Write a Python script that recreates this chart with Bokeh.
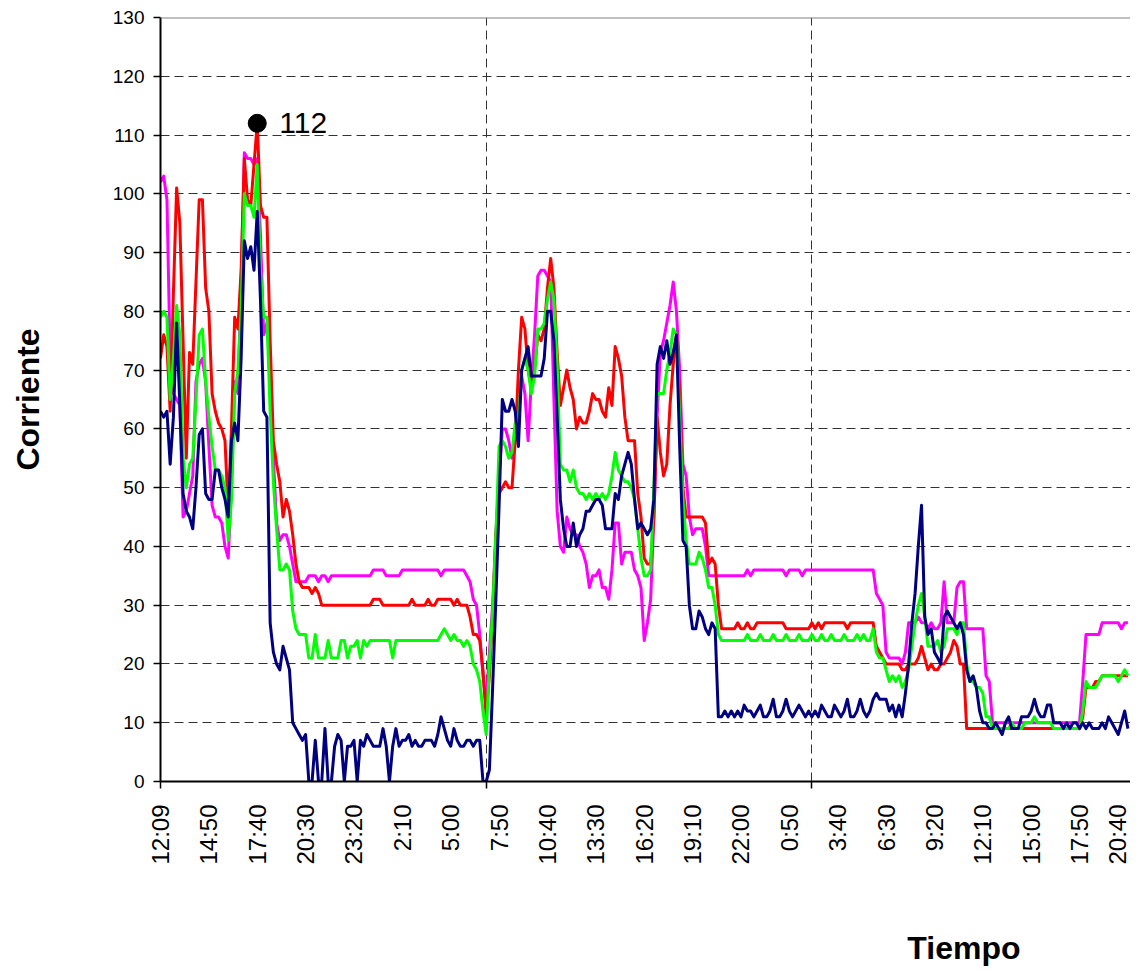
from math import pi
from bokeh.plotting import figure
from bokeh.layouts import column
from bokeh.models import Range1d, FixedTicker, Label, Span
from bokeh.embed import file_html
from bokeh.resources import INLINE

# ---- data (sample index along the time axis, one value per sample) ----
tick_labels = ["12:09", "14:50", "17:40", "20:30", "23:20", "2:10", "5:00",
               "7:50", "10:40", "13:30", "16:20", "19:10", "22:00", "0:50",
               "3:40", "6:30", "9:20", "12:10", "15:00", "17:50", "20:40"]
label_step = 15
y_ticks = [0, 10, 20, 30, 40, 50, 60, 70, 80, 90, 100, 110, 120, 130]

azul = [
    63, 62, 63, 54, 62, 78, 64, 49, 46, 45,
    43, 50, 59, 60, 49, 48, 48, 53, 53, 50,
    48, 45, 58, 61, 58, 72, 92, 89, 91, 87,
    97, 82, 63, 62, 27, 22, 20, 19, 23, 21,
    19, 10, 9, 8, 7, 8, 0, 0, 7, 0,
    0, 9, 0, 0, 6, 8, 7, 0, 6, 6,
    7, 0, 7, 6, 8, 7, 6, 6, 6, 9,
    6, 0, 6, 9, 6, 7, 7, 8, 6, 7,
    6, 6, 7, 7, 7, 6, 8, 11, 9, 7,
    6, 9, 7, 6, 6, 7, 7, 6, 7, 7,
    0, 0, 2, 16, 31, 47, 65, 63, 63, 65,
    63, 57, 70, 72, 74, 69, 69, 69, 69, 72,
    80, 80, 75, 62, 48, 43, 40, 40, 44, 40,
    42, 43, 46, 46, 47, 48, 48, 47, 43, 43,
    43, 49, 48, 52, 54, 56, 54, 48, 43, 44,
    43, 42, 43, 48, 71, 74, 72, 75, 71, 73,
    76, 57, 41, 40, 30, 26, 26, 29, 28, 26,
    25, 27, 26, 11, 11, 12, 11, 12, 11, 12,
    11, 13, 12, 12, 11, 12, 13, 11, 11, 12,
    14, 11, 11, 12, 14, 12, 11, 12, 13, 12,
    11, 12, 11, 12, 11, 13, 12, 11, 11, 13,
    12, 11, 12, 14, 11, 11, 12, 14, 12, 11,
    12, 14, 15, 14, 14, 14, 12, 13, 11, 13,
    11, 15, 20, 27, 32, 40, 47, 28, 25, 26,
    22, 21, 20, 28, 29, 28, 27, 26, 27, 25,
    19, 17, 18, 16, 12, 10, 10, 9, 9, 10,
    9, 8, 10, 11, 9, 9, 9, 11, 11, 11,
    12, 14, 12, 11, 11, 13, 13, 10, 10, 10,
    9, 10, 9, 10, 10, 9, 10, 9, 10, 9,
    9, 9, 10, 9, 11, 10, 9, 8, 10, 12,
    9]

verde = [
    79, 80, 79, 65, 72, 81, 76, 55, 50, 54,
    55, 65, 76, 77, 68, 62, 57, 53, 53, 52,
    50, 41, 48, 66, 70, 80, 100, 98, 98, 96,
    105, 87, 79, 79, 63, 51, 43, 36, 36, 37,
    36, 29, 26, 25, 25, 25, 21, 21, 25, 21,
    21, 21, 24, 21, 21, 21, 24, 24, 21, 23,
    23, 24, 21, 24, 23, 24, 24, 24, 24, 24,
    24, 24, 21, 24, 24, 24, 24, 24, 24, 24,
    24, 24, 24, 24, 24, 24, 24, 25, 26, 25,
    24, 25, 24, 24, 23, 24, 23, 20, 19, 17,
    12, 8, 20, 29, 42, 57, 58, 57, 55, 56,
    61, 61, 70, 72, 70, 66, 69, 77, 77, 78,
    82, 85, 82, 71, 54, 53, 53, 51, 53, 50,
    49, 49, 48, 49, 48, 49, 48, 49, 48, 49,
    52, 56, 53, 52, 51, 51, 50, 48, 43, 38,
    35, 35, 36, 50, 66, 66, 66, 70, 73, 77,
    76, 62, 48, 41, 37, 37, 37, 39, 38, 36,
    33, 33, 30, 25, 24, 24, 24, 24, 24, 24,
    24, 24, 25, 24, 24, 24, 25, 24, 24, 24,
    25, 24, 24, 24, 25, 24, 24, 24, 25, 24,
    24, 24, 25, 24, 24, 25, 24, 24, 25, 24,
    24, 24, 25, 24, 24, 24, 25, 24, 25, 24,
    24, 26, 22, 21, 21, 19, 17, 18, 17, 18,
    16, 17, 19, 23, 27, 30, 32, 28, 23, 23,
    23, 24, 22, 23, 26, 26, 26, 25, 27, 27,
    20, 17, 17, 16, 16, 15, 11, 11, 9, 9,
    9, 9, 9, 9, 10, 9, 9, 9, 10, 10,
    10, 11, 10, 10, 10, 10, 10, 9, 9, 9,
    9, 9, 9, 9, 9, 9, 12, 17, 16, 16,
    16, 17, 18, 18, 18, 18, 18, 17, 18, 19,
    18]

magenta = [
    102, 103, 99, 72, 66, 65, 64, 45, 46, 49,
    52, 68, 71, 72, 68, 57, 47, 45, 45, 44,
    40, 38, 50, 68, 66, 85, 107, 106, 106, 105,
    106, 93, 76, 78, 70, 55, 44, 41, 42, 42,
    40, 37, 34, 34, 34, 34, 35, 35, 35, 34,
    35, 35, 34, 35, 35, 35, 35, 35, 35, 35,
    35, 35, 35, 35, 35, 35, 36, 36, 36, 36,
    35, 35, 35, 35, 35, 36, 36, 36, 36, 36,
    36, 36, 36, 36, 36, 36, 36, 35, 36, 36,
    36, 36, 36, 36, 36, 35, 34, 31, 30, 25,
    18, 13, 22, 30, 42, 52, 60, 60, 58, 55,
    58, 66, 69, 66, 58, 68, 76, 86, 87, 87,
    86, 85, 65, 46, 40, 39, 45, 43, 42, 42,
    40, 39, 37, 33, 35, 35, 36, 33, 33, 31,
    36, 44, 44, 37, 39, 39, 39, 36, 35, 33,
    24, 27, 31, 45, 62, 73, 75, 78, 81, 85,
    80, 70, 54, 52, 45, 42, 43, 43, 43, 40,
    35, 35, 35, 35, 35, 35, 35, 35, 35, 35,
    35, 35, 36, 35, 36, 36, 36, 36, 36, 36,
    36, 36, 36, 36, 35, 36, 36, 36, 36, 35,
    36, 36, 36, 36, 36, 36, 36, 36, 36, 36,
    36, 36, 36, 36, 36, 36, 36, 36, 36, 36,
    36, 36, 32, 31, 30, 22, 21, 21, 21, 21,
    20, 22, 27, 27, 27, 28, 27, 27, 26, 27,
    26, 26, 27, 34, 27, 27, 27, 33, 34, 34,
    26, 26, 26, 26, 26, 26, 18, 17, 10, 10,
    10, 10, 10, 10, 10, 10, 10, 10, 10, 10,
    10, 10, 10, 10, 10, 10, 10, 10, 10, 10,
    10, 10, 10, 10, 10, 10, 17, 25, 25, 25,
    25, 25, 27, 27, 27, 27, 27, 27, 26, 27,
    27]

rojo = [
    72, 76, 74, 63, 83, 101, 95, 75, 55, 73,
    71, 85, 99, 99, 84, 80, 66, 63, 61, 60,
    58, 46, 60, 79, 77, 87, 106, 99, 98, 105,
    112, 98, 96, 96, 75, 58, 54, 51, 45, 48,
    46, 42, 37, 34, 33, 33, 33, 32, 33, 32,
    30, 30, 30, 30, 30, 30, 30, 30, 30, 30,
    30, 30, 30, 30, 30, 30, 31, 31, 31, 30,
    30, 30, 30, 30, 30, 30, 30, 30, 31, 30,
    30, 30, 30, 31, 30, 30, 31, 31, 31, 31,
    31, 30, 31, 30, 30, 30, 28, 25, 25, 24,
    19, 11, 18, 28, 42, 49, 50, 51, 50, 50,
    58, 70, 79, 77, 70, 67, 70, 76, 75, 77,
    84, 89, 84, 73, 64, 67, 70, 67, 65, 60,
    62, 61, 61, 63, 66, 65, 65, 63, 62, 67,
    64, 74, 72, 69, 62, 58, 58, 58, 49, 45,
    38, 37, 37, 45, 62, 56, 52, 54, 64, 71,
    76, 66, 50, 45, 45, 45, 45, 45, 45, 44,
    37, 38, 37, 30, 26, 26, 26, 26, 26, 27,
    26, 26, 27, 26, 26, 27, 27, 27, 27, 27,
    27, 27, 27, 27, 26, 26, 26, 26, 26, 26,
    26, 26, 27, 26, 27, 26, 27, 27, 27, 27,
    27, 27, 27, 26, 27, 27, 27, 27, 27, 27,
    27, 27, 23, 22, 21, 20, 20, 20, 20, 20,
    19, 19, 20, 20, 20, 21, 23, 21, 19, 20,
    19, 19, 20, 20, 21, 22, 24, 23, 20, 20,
    9, 9, 9, 9, 9, 9, 9, 9, 9, 9,
    9, 9, 9, 9, 9, 9, 9, 9, 9, 9,
    9, 9, 9, 9, 9, 9, 9, 9, 9, 9,
    9, 9, 9, 9, 9, 9, 11, 16, 16, 16,
    17, 17, 18, 18, 18, 18, 18, 18, 18, 18,
    18]

FONT = "Liberation Sans"

idx = list(range(len(azul)))

p = figure(width=1130, height=880,
           x_range=Range1d(0, 300.8), y_range=Range1d(0, 130),
           output_backend="svg", toolbar_location=None,
           min_border_left=160, min_border_right=0,
           min_border_top=17, min_border_bottom=99)
p.outline_line_color = None
p.background_fill_color = "white"
p.border_fill_color = "white"

# grid
p.ygrid.ticker = FixedTicker(ticks=y_ticks[1:-1])
p.xgrid.ticker = FixedTicker(ticks=[101, 202])
for g in (p.xgrid, p.ygrid):
    g.grid_line_color = "#333333"
    g.grid_line_dash = "9 5"
    g.grid_line_width = 1

# y axis
p.yaxis.ticker = FixedTicker(ticks=y_ticks)
p.yaxis.axis_line_width = 2
p.yaxis.axis_line_color = "black"
p.yaxis.major_tick_out = 7
p.yaxis.major_tick_in = 0
p.yaxis.major_tick_line_width = 1.5
p.yaxis.minor_tick_line_color = None
p.yaxis.major_label_standoff = 9
p.yaxis.major_label_text_font = FONT
p.yaxis.major_label_text_font_size = "19px"
p.yaxis.major_label_text_color = "black"
p.yaxis.axis_label = "Corriente"
p.yaxis.axis_label_standoff = 64
p.yaxis.axis_label_text_font = FONT
p.yaxis.axis_label_text_font_size = "32px"
p.yaxis.axis_label_text_font_style = "bold"
p.yaxis.axis_label_text_color = "black"

# x axis
xt = list(range(0, label_step * len(tick_labels), label_step))
p.xaxis.ticker = FixedTicker(ticks=xt, minor_ticks=[0, 101, 202])
p.xaxis.major_label_overrides = {t: lab for t, lab in zip(xt, tick_labels)}
p.xaxis.major_label_orientation = pi / 2
p.xaxis.axis_line_width = 2
p.xaxis.axis_line_color = "black"
p.xaxis.major_tick_line_color = None
p.xaxis.major_tick_out = 0
p.xaxis.major_tick_in = 0
p.xaxis.minor_tick_out = 7
p.xaxis.minor_tick_in = 0
p.xaxis.minor_tick_line_width = 1.5
p.xaxis.minor_tick_line_color = "black"
p.xaxis.major_label_standoff = 16
p.xaxis.major_label_text_font = FONT
p.xaxis.major_label_text_font_size = "24px"
p.xaxis.major_label_text_color = "black"

# top border of the plot area
p.add_layout(Span(location=130, dimension="width", line_color="#808080", line_width=2))

# series
for ys, col in ((magenta, "#FF00FF"), (rojo, "#FF0000"), (verde, "#00FF00"), (azul, "#000080")):
    p.line(idx, ys, line_color=col, line_width=3, line_join="round")

# peak marker
peak_v = max(rojo)
peak_i = rojo.index(peak_v)
p.scatter([peak_i], [peak_v], marker="circle", size=18, fill_color="black", line_color="black")
p.add_layout(Label(x=peak_i, y=peak_v, text=str(peak_v), x_offset=22,
                   text_baseline="middle", text_font=FONT, text_font_size="30px",
                   text_color="black"))

# strip below the chart carrying the x-axis title, placed toward the right
t = figure(width=1130, height=88, x_range=Range1d(0, 1130), y_range=Range1d(0, 88),
           x_axis_type=None, y_axis_type=None, output_backend="svg",
           toolbar_location=None, min_border=0)
t.outline_line_color = None
t.grid.visible = False
t.add_layout(Label(x=936, y=21, text="Tiempo", text_align="center",
                   text_baseline="middle", text_font=FONT, text_font_size="32px",
                   text_font_style="bold", text_color="black"))

layout = column(p, t, spacing=0)
open("out.html", "w").write(file_html(layout, INLINE))
